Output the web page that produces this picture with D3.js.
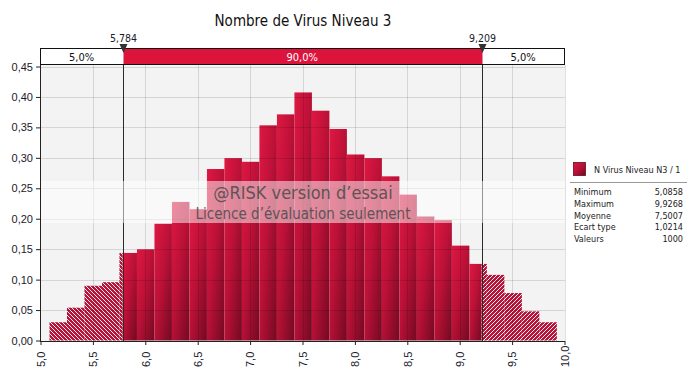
<!DOCTYPE html>
<html><head><meta charset="utf-8">
<script src="https://cdn.jsdelivr.net/npm/d3@7/dist/d3.min.js"></script>
<style>
html,body{margin:0;padding:0;background:#fff;}
svg{display:block;font-family:"DejaVu Sans",sans-serif;font-stretch:condensed;}
</style></head>
<body>
<svg id="chart" width="694" height="382"></svg>
<script>
// ---------- data ----------
const title = "Nombre de Virus Niveau 3";
const binEdges = [5.0858,5.2527,5.4197,5.5866,5.7535,5.9205,6.0874,6.2543,6.4213,6.5882,
  6.7551,6.9221,7.0890,7.2559,7.4229,7.5898,7.7567,7.9237,8.0906,8.2575,
  8.4245,8.5914,8.7583,8.9253,9.0922,9.2591,9.4261,9.5930,9.7599,9.9268];
const density = [0.0300,0.0539,0.0899,0.0958,0.1438,0.1498,0.1917,0.2276,0.2157,0.2816,
  0.2995,0.2935,0.3534,0.3714,0.4074,0.3774,0.3474,0.3055,0.2995,0.2696,
  0.2396,0.2037,0.1977,0.1558,0.1258,0.1078,0.0779,0.0479,0.0300];
const pLow = 5.784, pHigh = 9.209;
const markerLabels = ["5,784","9,209"];
const pctLabels = ["5,0%","90,0%","5,0%"];
const xTicks = [5,5.5,6,6.5,7,7.5,8,8.5,9,9.5,10];
const yTicks = [0,0.05,0.10,0.15,0.20,0.25,0.30,0.35,0.40,0.45];
const legendName = "N Virus Niveau N3 / 1";
const statLabels = ["Minimum","Maximum","Moyenne","Ecart type","Valeurs"];
const statValues = ["5,0858","9,9268","7,5007","1,0214","1000"];
const watermark = ["@RISK version d\u2019essai","Licence d\u2019\u00e9valuation seulement"];

// ---------- setup ----------
const svg = d3.select("#chart");
const x = d3.scaleLinear().domain([5,10]).range([40.5,564.5]);
const y = d3.scaleLinear().domain([0,0.45]).range([340.5,66.5]);
const comma = (f) => (v) => d3.format(f)(v).replace(".", ",");

const defs = svg.append("defs");
const grad = defs.append("linearGradient").attr("id","barGrad")
  .attr("x1",0).attr("y1",0).attr("x2",1).attr("y2",1);
grad.append("stop").attr("offset",0).attr("stop-color","#de1842");
grad.append("stop").attr("offset",0.45).attr("stop-color","#bd1138");
grad.append("stop").attr("offset",1).attr("stop-color","#720a21");
function hatch(id, dir){
  const p = defs.append("pattern").attr("id",id).attr("patternUnits","userSpaceOnUse")
    .attr("width",4).attr("height",4);
  p.append("rect").attr("width",4).attr("height",4).attr("fill","#b5143b");
  if(dir>0){
    p.append("path").attr("d","M-1,1 L1,-1 M0,4 L4,0 M3,5 L5,3");
  } else {
    p.append("path").attr("d","M-1,3 L1,5 M0,0 L4,4 M3,-1 L5,1");
  }
  p.select("path").attr("stroke","#fff").attr("stroke-width",0.9);
}
hatch("hatchL",-1);
hatch("hatchR",1);

// title
svg.append("text").attr("x",303).attr("y",26).attr("text-anchor","middle")
  .attr("font-size",15).attr("fill","#111").text(title);

// plot background
svg.append("rect").attr("x",40).attr("y",65).attr("width",525).attr("height",276).attr("fill","#f3f3f3");

// bars
const bins = density.map((d,i)=>({lo:binEdges[i],hi:binEdges[i+1],v:d}));
const pieces = [];
bins.forEach(b=>{
  if(b.lo < pLow) pieces.push({lo:b.lo,hi:Math.min(b.hi,pLow),v:b.v,k:"L"});
  const s0 = Math.max(b.lo,pLow), s1 = Math.min(b.hi,pHigh);
  if(s1 > s0) pieces.push({lo:s0,hi:s1,v:b.v,k:"S"});
  if(b.hi > pHigh) pieces.push({lo:Math.max(b.lo,pHigh),hi:b.hi,v:b.v,k:"R"});
});
svg.append("g").selectAll("rect").data(pieces).join("rect")
  .attr("x",d=>x(d.lo)).attr("width",d=>x(d.hi)-x(d.lo))
  .attr("y",d=>y(d.v)).attr("height",d=>y(0)-y(d.v))
  .attr("fill",d=>d.k==="S"?"url(#barGrad)":(d.k==="L"?"url(#hatchL)":"url(#hatchR)"));

// gridlines (drawn over bars, translucent)
const grid = svg.append("g").attr("stroke","rgba(0,0,0,0.12)").attr("stroke-width",1);
grid.selectAll(".gx").data(xTicks.slice(1)).join("line")
  .attr("x1",d=>Math.round(x(d))+0.5).attr("x2",d=>Math.round(x(d))+0.5).attr("y1",65).attr("y2",341);
grid.selectAll(".gy").data(yTicks.slice(1)).join("line")
  .attr("x1",40).attr("x2",565).attr("y1",d=>Math.round(y(d))+0.5).attr("y2",d=>Math.round(y(d))+0.5);

// marker lines
svg.append("g").selectAll("line").data([pLow,pHigh]).join("line")
  .attr("x1",d=>Math.round(x(d))+0.5).attr("x2",d=>Math.round(x(d))+0.5)
  .attr("y1",50).attr("y2",341).attr("stroke","#2a2a2a").attr("stroke-width",1);

// watermark band
svg.append("rect").attr("x",40).attr("y",181).attr("width",525).attr("height",42)
  .attr("fill","#fff").attr("opacity",0.5);
svg.append("text").attr("x",303).attr("y",199).attr("text-anchor","middle")
  .attr("font-size",18).attr("fill","#4a4a4a").attr("opacity",0.85).text(watermark[0]);
svg.append("text").attr("x",303).attr("y",219).attr("text-anchor","middle")
  .attr("font-size",15).attr("fill","#4a4a4a").attr("opacity",0.85).text(watermark[1]);

// axes
const yAxis = svg.append("g").attr("transform","translate(40,0)")
  .call(d3.axisLeft(y).tickValues(yTicks).tickFormat(comma(".2f")).tickSize(4).tickPadding(3));
yAxis.select(".domain").attr("d","M0.5,65V341");
yAxis.selectAll("text").attr("font-size",11).attr("fill","#1a1a2a").attr("font-family",null);
const xAxis = svg.append("g").attr("transform","translate(0,341)")
  .call(d3.axisBottom(x).tickValues(xTicks).tickFormat(comma(".1f")).tickSize(4));
xAxis.select(".domain").attr("d","M40,0.5H565");
xAxis.selectAll("text").attr("font-size",11).attr("fill","#1a1a2a").attr("font-family",null)
  .attr("text-anchor","start").attr("dy","0.35em")
  .attr("transform","translate(0,26) rotate(-90)").attr("x",0).attr("y",0);
svg.selectAll(".domain, .tick line").attr("stroke","#222");

// percentile box
const box = svg.append("g");
box.append("rect").attr("x",40.5).attr("y",48.5).attr("width",524).attr("height",16).attr("fill","#fff");
box.append("rect").attr("x",Math.round(x(pLow))+0.5).attr("y",48.5)
  .attr("width",Math.round(x(pHigh))-Math.round(x(pLow))).attr("height",16).attr("fill","#dc143c");
box.append("rect").attr("x",40.5).attr("y",48.5).attr("width",524).attr("height",16)
  .attr("fill","none").attr("stroke","#111");
const segs = [[5,pLow],[pLow,pHigh],[pHigh,10]];
box.selectAll(".pl").data(segs).join("text")
  .attr("x",d=>(x(d[0])+x(d[1]))/2).attr("y",61).attr("text-anchor","middle")
  .attr("font-size",11).attr("fill",(d,i)=>i===1?"#fff":"#111").text((d,i)=>pctLabels[i]);
// markers
const mk = svg.append("g").selectAll("g").data([pLow,pHigh]).join("g")
  .attr("transform",d=>`translate(${Math.round(x(d))+0.5},0)`);
mk.append("path").attr("d","M-4,44 L4,44 L0,53 Z").attr("fill","#333");
mk.append("text").attr("y",42).attr("text-anchor","middle").attr("font-size",10.5)
  .attr("fill","#1a1a2a").text((d,i)=>markerLabels[i]);

// legend
const lg = svg.append("g");
lg.append("rect").attr("x",573.5).attr("y",162.5).attr("width",12).attr("height",13)
  .attr("fill","url(#barGrad)").attr("stroke","#6a0a20").attr("stroke-width",0.8);
lg.append("text").attr("x",594).attr("y",173).attr("font-size",9).attr("fill","#222").text(legendName);
lg.append("line").attr("x1",570).attr("x2",687).attr("y1",182.5).attr("y2",182.5).attr("stroke","#999");
lg.selectAll(".sl").data(statLabels).join("text")
  .attr("x",574).attr("y",(d,i)=>195+i*11.8).attr("font-size",9).attr("fill","#222").text(d=>d);
lg.selectAll(".sv").data(statValues).join("text")
  .attr("x",683).attr("y",(d,i)=>195+i*11.8).attr("text-anchor","end").attr("font-size",9).attr("fill","#222").text(d=>d);
</script>
</body></html>
